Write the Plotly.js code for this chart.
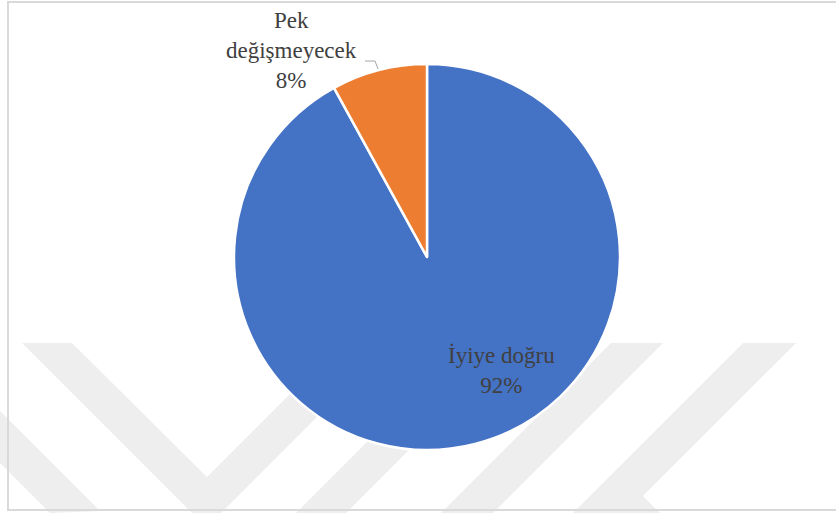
<!DOCTYPE html>
<html>
<head>
<meta charset="utf-8">
<script src="https://cdn.plot.ly/plotly-3.0.1.min.js"></script>
<style>
  html, body { margin: 0; padding: 0; background: #ffffff; }
  #chart { width: 836px; height: 513px; }
</style>
</head>
<body>
<div id="chart"></div>
<script>
// ---- data ----
const categories = ['İyiye doğru', 'Pek değişmeyecek'];
const values = [92, 8];
const sliceColors = ['#4472C4', '#ED7D31'];

// ---- helpers (pixel -> paper, for decoration only) ----
const W = 836, H = 513;
const px = x => x / W;
const py = y => 1 - y / H;
function poly(points) {
  return 'M ' + points.map(p => px(p[0]).toFixed(4) + ',' + py(p[1]).toFixed(4)).join(' L ') + ' Z';
}

const total = values.reduce((a, b) => a + b, 0);
const pctText = values.map(v => Math.round(v / total * 100) + '%');

// background watermark bands (decorative)
const wmColor = '#eeeeee';
const watermark = [
  [[0, 411], [100, 511], [50, 513], [0, 463]],
  [[22, 343], [72, 343], [207, 477], [341, 343], [391, 343], [221, 513], [192, 513]],
  [[466, 343], [516, 343], [346, 513], [296, 513]],
  [[611, 343], [663, 343], [493, 513], [441, 513]],
  [[743, 343], [796, 343], [643, 496], [660, 513], [573, 513]]
];

const shapes = watermark.map(p => ({
  type: 'path', xref: 'paper', yref: 'paper', path: poly(p),
  fillcolor: wmColor, line: {width: 0}, layer: 'below'
}));

// chart frame
shapes.push({
  type: 'rect', xref: 'paper', yref: 'paper',
  x0: px(8), x1: px(845), y0: py(510), y1: py(2),
  line: {color: '#d9d9d9', width: 2}, fillcolor: 'rgba(0,0,0,0)', layer: 'above'
});
// leader line for small slice label
shapes.push({
  type: 'path', xref: 'paper', yref: 'paper',
  path: 'M ' + px(365) + ',' + py(61) + ' L ' + px(375) + ',' + py(61) + ' L ' + px(378) + ',' + py(69),
  line: {color: '#a6a6a6', width: 1}, layer: 'above'
});

const labelFont = {family: 'Times New Roman', size: 23, color: '#404040'};

const annotations = [
  {
    text: categories[0] + '<br>' + pctText[0],
    x: px(501), y: py(370), xref: 'paper', yref: 'paper',
    showarrow: false, font: labelFont, align: 'center', xanchor: 'center', yanchor: 'middle'
  },
  {
    text: categories[1].replace(' ', '<br>') + '<br>' + pctText[1],
    x: px(291), y: py(51), xref: 'paper', yref: 'paper',
    showarrow: false, font: labelFont, align: 'center', xanchor: 'center', yanchor: 'middle'
  }
];

const trace = {
  type: 'pie',
  labels: categories,
  values: values,
  sort: false,
  direction: 'clockwise',
  rotation: 0,
  textinfo: 'none',
  hoverinfo: 'label+percent',
  marker: {colors: sliceColors, line: {color: '#ffffff', width: 2.5}},
  domain: {x: [px(234), px(620)], y: [py(450), py(64)]},
  showlegend: false
};

const layout = {
  width: W, height: H,
  margin: {l: 0, r: 0, t: 0, b: 0},
  paper_bgcolor: '#ffffff',
  plot_bgcolor: '#ffffff',
  showlegend: false,
  font: {family: 'Times New Roman'},
  shapes: shapes,
  annotations: annotations
};

Plotly.newPlot('chart', [trace], layout, {displayModeBar: false, staticPlot: true});
</script>
</body>
</html>
